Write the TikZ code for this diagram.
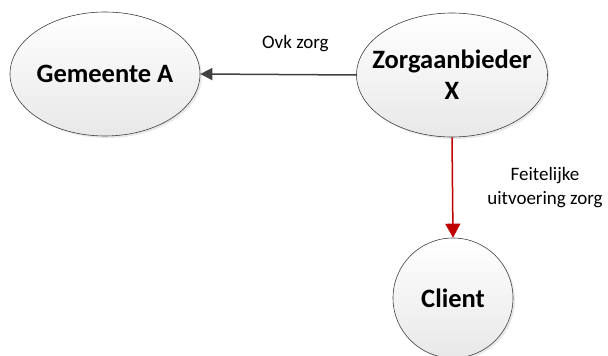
\documentclass[tikz,border=0pt]{standalone}
\usepackage{fontspec}
\setmainfont{Carlito}
\usetikzlibrary{shapes.geometric,arrows.meta,shadows}
\definecolor{nodefillA}{HTML}{FFFFFF}
\definecolor{nodefillB}{HTML}{E8E8E8}
\definecolor{flowred}{HTML}{C00000}
\definecolor{flowgray}{HTML}{404040}
\tikzset{
  actor/.style={ellipse, draw=black!75, line width=0.6pt,
    top color=nodefillA, bottom color=nodefillB,
    drop shadow={shadow xshift=2pt, shadow yshift=-2pt, opacity=0.18},
    inner sep=0pt},
  actortext/.style={font=\bfseries\fontsize{26.5}{31}\selectfont, align=center, inner sep=0pt},
  flowlabel/.style={font=\fontsize{19}{24}\selectfont, align=center},
  flow/.style={line width=1.5pt}
}
\begin{document}
\begin{tikzpicture}[x=1pt,y=1pt]
  \useasboundingbox (0,0) rectangle (608,356);
  % the three parties
  \node[actor, minimum width=190pt, minimum height=124pt] (gem) at (105,282) {};
  \node[actor, minimum width=191pt, minimum height=124pt] (zorg) at (452,281) {};
  \node[actor, circle, minimum size=120pt] (client) at (453,58) {};
  \node[actortext] (gemtxt) at (gem.center) {Gemeente A};
  \node[actortext] (zorgtxt) at (zorg.center) {Zorgaanbieder\\X};
  \node[actortext] (clienttxt) at (client.center) {Client};
  % relations
  \draw[flow, draw=flowgray, -{Triangle[length=12pt,width=12pt]}] (zorg.west) -- (gem.east)
    node[pos=0.39, above=19pt, flowlabel] (lblovk) {Ovk zorg};
  \draw[flow, draw=flowred, -{Triangle[length=14pt,width=15pt]}] (zorg.south) -- (client.north);
  \node[flowlabel] (lblfeit) at (545,168) {Feitelijke\\uitvoering zorg};
\end{tikzpicture}
\end{document}
